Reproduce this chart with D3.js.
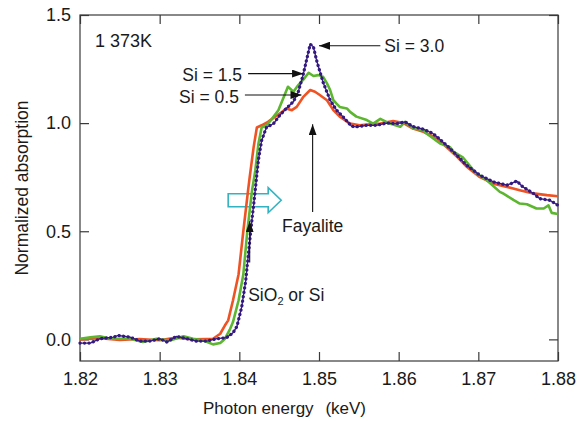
<!DOCTYPE html>
<html>
<head>
<meta charset="utf-8">
<script src="https://cdn.jsdelivr.net/npm/d3@7"></script>
<style>
  body { margin: 0; background: #fff; }
  text { font-family: "Liberation Sans", Arial, Helvetica, sans-serif; fill: #1a1a1a; }
</style>
</head>
<body>
<div id="chart"></div>
<script>
// XANES spectra, Si K-edge, 1 373K
const width = 585, height = 421,
    margin = ({ top: 15, right: 27, bottom: 60, left: 80 });

const xTicks = [1.82, 1.83, 1.84, 1.85, 1.86, 1.87, 1.88];
const yTicks = [0.0, 0.5, 1.0, 1.5];

// Si = 0.5 (red)
const si05E = [1.8200,1.8225,1.8250,1.8275,1.8300,1.8321,1.8342,1.8359,1.8367,1.8376,1.8382,1.8386,1.8392,1.8399,1.8405,1.8411,1.8413,1.8418,1.8422,1.8428,1.8436,1.8445,1.8453,1.8459,1.8466,1.8472,1.8480,1.8489,1.8495,1.8501,1.8510,1.8518,1.8526,1.8539,1.8551,1.8564,1.8577,1.8593,1.8606,1.8618,1.8631,1.8648,1.8660,1.8673,1.8685,1.8702,1.8719,1.8736,1.8752,1.8769,1.8786,1.8800];
const si05V = [0.000,0.005,-0.003,0.002,-0.004,0.008,0.000,0.002,0.003,0.026,0.065,0.088,0.18,0.30,0.50,0.69,0.75,0.89,0.98,0.99,1.006,1.03,1.05,1.068,1.06,1.075,1.12,1.153,1.145,1.13,1.106,1.06,1.03,0.998,0.99,0.995,0.998,1.01,1.0,0.975,0.96,0.93,0.89,0.845,0.80,0.75,0.72,0.705,0.69,0.675,0.667,0.662];

// Si = 1.5 (green)
const si15E = [1.8200,1.8213,1.8225,1.8238,1.8250,1.8263,1.8279,1.8296,1.8313,1.8330,1.8342,1.8355,1.8367,1.8376,1.8382,1.8388,1.8392,1.8399,1.8405,1.8410,1.8416,1.8420,1.8424,1.8428,1.8434,1.8441,1.8449,1.8455,1.8461,1.8468,1.8474,1.8480,1.8487,1.8493,1.8499,1.8505,1.8510,1.8514,1.8518,1.8522,1.8526,1.8535,1.8539,1.8547,1.8560,1.8568,1.8577,1.8589,1.8602,1.8608,1.8618,1.8631,1.8635,1.8652,1.8664,1.8669,1.8681,1.8694,1.8698,1.8711,1.8727,1.8731,1.8744,1.8752,1.8761,1.8773,1.8782,1.8784,1.8788,1.8792,1.8800];
const si15V = [0.003,0.010,0.014,0.003,0.003,0.003,-0.012,0.003,-0.005,0.014,0.003,-0.005,-0.023,-0.017,0.003,0.045,0.08,0.18,0.30,0.50,0.69,0.78,0.906,0.98,0.99,1.02,1.06,1.114,1.168,1.145,1.176,1.20,1.233,1.218,1.222,1.215,1.184,1.153,1.106,1.09,1.075,1.068,1.052,1.03,1.014,0.998,1.02,0.998,0.983,1.006,0.975,0.968,0.952,0.906,0.89,0.867,0.84,0.782,0.767,0.735,0.682,0.675,0.645,0.628,0.625,0.605,0.605,0.61,0.62,0.585,0.58];

// Si = 3.0 (purple, dotted)
const si30E = [1.8200,1.8213,1.8225,1.8242,1.8248,1.8263,1.8275,1.8288,1.8300,1.8309,1.8321,1.8334,1.8346,1.8359,1.8372,1.8384,1.8392,1.8397,1.8403,1.8408,1.8414,1.8420,1.8424,1.8428,1.8434,1.8443,1.8451,1.8459,1.8468,1.8474,1.8480,1.8489,1.8493,1.8497,1.8505,1.8514,1.8522,1.8530,1.8541,1.8547,1.8560,1.8572,1.8585,1.8598,1.8608,1.8618,1.8631,1.8643,1.8648,1.8660,1.8673,1.8685,1.8702,1.8719,1.8736,1.8746,1.8748,1.8756,1.8769,1.8777,1.8790,1.8800];
const si30V = [-0.017,-0.017,0.003,0.010,0.018,0.010,-0.008,-0.008,0.003,-0.012,0.014,0.003,-0.008,-0.008,0.003,0.008,0.03,0.06,0.15,0.27,0.49,0.69,0.83,0.92,0.98,0.998,1.037,1.068,1.10,1.145,1.222,1.365,1.353,1.29,1.19,1.106,1.06,1.03,0.985,0.983,0.99,0.99,1.0,0.998,1.006,0.984,0.972,0.952,0.937,0.898,0.852,0.806,0.759,0.728,0.713,0.728,0.733,0.705,0.675,0.651,0.643,0.62];

// annotation arrows, in data coordinates
const arrowLabels = ["Si = 3.0", "Si = 1.5", "Si = 0.5", "Fayalite"];
const arrowTips  = [[1.8500, 1.358], [1.8480, 1.229], [1.8478, 1.130], [1.8492, 0.995]];
const arrowTails = [[1.8577, 1.358], [1.8411, 1.229], [1.8407, 1.130], [1.8492, 0.589]];
const sioTip = [1.8413, 0.546], sioTail = [1.8413, 0.356];
const cyanArrow = [1.8386, 0.6435];

const svg = d3.select("#chart")
    .append("svg")
    .attr("width", width)
    .attr("height", height);

const x = d3.scaleLinear()
    .domain([1.82, 1.88])
    .range([margin.left, width - margin.right]);

const y = d3.scaleLinear()
    .domain([-0.1, 1.5])
    .range([height - margin.bottom, margin.top]);

const frameColor = "#3a3a3a";

// axes: ticks point inward on all four sides
const gx = svg.append("g")
    .attr("transform", `translate(0,${height - margin.bottom})`)
    .call(d3.axisBottom(x).tickValues(xTicks).tickFormat(d3.format(".2f"))
        .tickSizeInner(-9).tickSizeOuter(0).tickPadding(11));
const gy = svg.append("g")
    .attr("transform", `translate(${margin.left},0)`)
    .call(d3.axisLeft(y).tickValues(yTicks).tickFormat(d3.format(".1f"))
        .tickSizeInner(-9).tickSizeOuter(0).tickPadding(9));
const gt = svg.append("g")
    .attr("transform", `translate(0,${margin.top})`)
    .call(d3.axisTop(x).tickValues(xTicks).tickFormat("")
        .tickSizeInner(-9).tickSizeOuter(0));
const gr = svg.append("g")
    .attr("transform", `translate(${width - margin.right},0)`)
    .call(d3.axisRight(y).tickValues(yTicks).tickFormat("")
        .tickSizeInner(-9).tickSizeOuter(0));

[gx, gy, gt, gr].forEach(g => {
    g.select(".domain").remove();
    g.selectAll("line").attr("stroke", frameColor).attr("stroke-width", 1.2);
    g.selectAll("text")
        .style("font-family", "'Liberation Sans', Arial, sans-serif")
        .style("font-size", "18px")
        .attr("fill", "#1a1a1a");
});

svg.append("rect")
    .attr("x", margin.left)
    .attr("y", margin.top)
    .attr("width", width - margin.left - margin.right)
    .attr("height", height - margin.top - margin.bottom)
    .attr("fill", "none")
    .attr("stroke", frameColor)
    .attr("stroke-width", 1.2);

// axis titles
svg.append("text")
    .attr("x", 203)
    .attr("y", 414)
    .style("font-size", "17px")
    .text("Photon energy");
svg.append("text")
    .attr("x", 366)
    .attr("y", 414)
    .attr("text-anchor", "end")
    .style("font-size", "17px")
    .text("(keV)");
svg.append("text")
    .attr("transform", "translate(22,188) rotate(-90)")
    .attr("text-anchor", "middle")
    .attr("dy", "0.35em")
    .style("font-size", "17.5px")
    .text("Normalized absorption");

svg.append("text")
    .attr("x", 95)
    .attr("y", 46.5)
    .style("font-size", "18px")
    .text("1 373K");

// hollow cyan arrow
const cx0 = x(cyanArrow[0]), cy0 = y(cyanArrow[1]);
svg.append("path")
    .attr("d", `M${cx0},${cy0 - 6.5} h40 v-6 l13,12.5 l-13,12.5 v-6 h-40 z`)
    .attr("fill", "none")
    .attr("stroke", "#33b3c1")
    .attr("stroke-width", 1.6);

// spectra
const line = d3.line()
    .x(d => x(d[0]))
    .y(d => y(d[1]))
    .curve(d3.curveLinear);

svg.append("path")
    .datum(d3.zip(si05E, si05V))
    .attr("d", line)
    .attr("fill", "none")
    .attr("stroke", "#ef5323")
    .attr("stroke-width", 2.6)
    .attr("stroke-linejoin", "round");

svg.append("path")
    .datum(d3.zip(si15E, si15V))
    .attr("d", line)
    .attr("fill", "none")
    .attr("stroke", "#5db62f")
    .attr("stroke-width", 2.6)
    .attr("stroke-linejoin", "round");

const si30 = d3.zip(si30E, si30V);
svg.append("path")
    .datum(si30)
    .attr("d", line)
    .attr("fill", "none")
    .attr("stroke", "#341a80")
    .attr("stroke-width", 1.3);
svg.append("path")
    .datum(si30)
    .attr("d", line)
    .attr("fill", "none")
    .attr("stroke", "#341a80")
    .attr("stroke-width", 3.3)
    .attr("stroke-linecap", "round")
    .attr("stroke-dasharray", "0.1 4.4");

// arrows
svg.append("defs").append("marker")
    .attr("id", "head")
    .attr("viewBox", "0 0 11 8")
    .attr("refX", 11)
    .attr("refY", 4)
    .attr("markerUnits", "userSpaceOnUse")
    .attr("markerWidth", 11)
    .attr("markerHeight", 8)
    .attr("orient", "auto")
  .append("path")
    .attr("d", "M0,0 L11,4 L0,8 z")
    .attr("fill", "#111");

const arrows = arrowLabels.map((t, i) => ({ text: t, tip: arrowTips[i], tail: arrowTails[i] }));
arrows.push({ text: null, tip: sioTip, tail: sioTail });

svg.selectAll(".ann")
    .data(arrows)
    .join("line")
    .attr("class", "ann")
    .attr("x1", d => x(d.tail[0]))
    .attr("y1", d => y(d.tail[1]))
    .attr("x2", d => x(d.tip[0]))
    .attr("y2", d => y(d.tip[1]))
    .attr("stroke", "#111")
    .attr("stroke-width", 1.1)
    .attr("marker-end", "url(#head)");

// labels beside the arrow tails
const annFont = "17.5px";
svg.append("text")
    .attr("x", x(arrowTails[0][0]) + 4)
    .attr("y", y(arrowTails[0][1]) + 6.5)
    .style("font-size", annFont)
    .text(arrowLabels[0]);
svg.append("text")
    .attr("x", x(arrowTails[1][0]) - 6)
    .attr("y", y(arrowTails[1][1]) + 7.5)
    .attr("text-anchor", "end")
    .style("font-size", annFont)
    .text(arrowLabels[1]);
svg.append("text")
    .attr("x", x(arrowTails[2][0]) - 6)
    .attr("y", y(arrowTails[2][1]) + 7.5)
    .attr("text-anchor", "end")
    .style("font-size", annFont)
    .text(arrowLabels[2]);
svg.append("text")
    .attr("x", x(arrowTails[3][0]))
    .attr("y", y(arrowTails[3][1]) + 20)
    .attr("text-anchor", "middle")
    .style("font-size", annFont)
    .text(arrowLabels[3]);

const sio = svg.append("text")
    .attr("x", x(sioTail[0]) - 1.5)
    .attr("y", y(sioTail[1]) + 39)
    .style("font-size", annFont);
sio.append("tspan").text("SiO");
sio.append("tspan").attr("dy", 4).style("font-size", "11px").text("2");
sio.append("tspan").attr("dy", -4).text(" or Si");
</script>
</body>
</html>
